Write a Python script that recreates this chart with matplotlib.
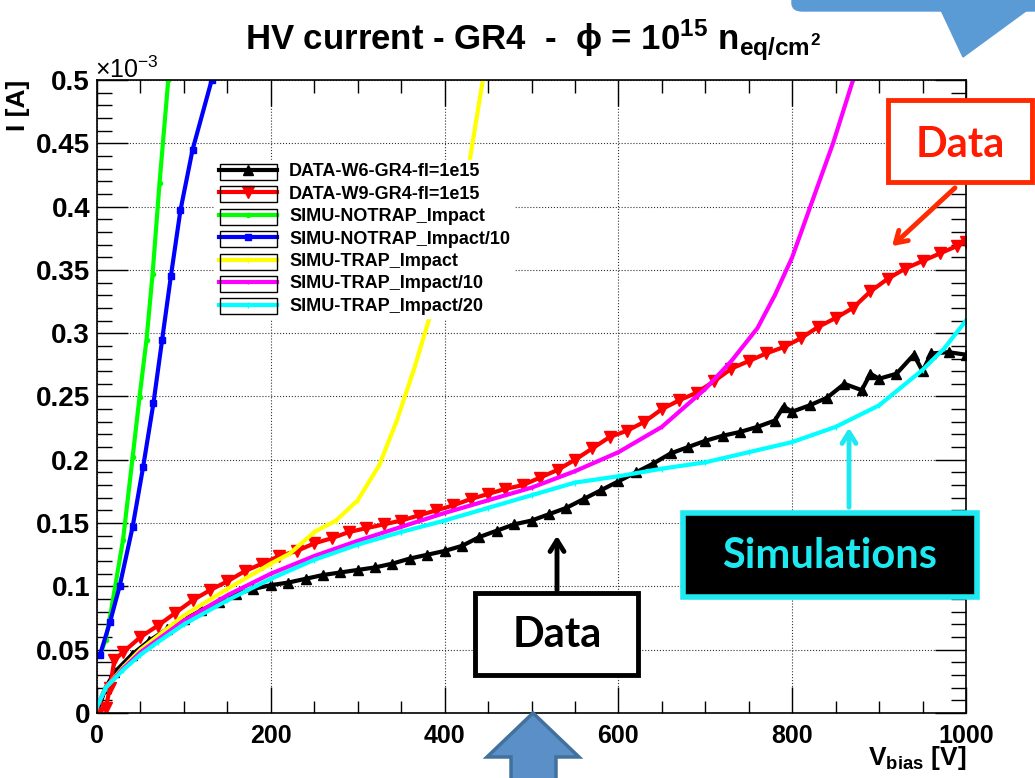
import matplotlib
matplotlib.use('Agg')
import matplotlib.pyplot as plt
from matplotlib.patches import Rectangle, FancyBboxPatch, FancyArrowPatch, Polygon
from matplotlib.ticker import MultipleLocator

plt.rcParams['font.family'] = ['Liberation Sans', 'DejaVu Sans']
plt.rcParams['mathtext.fontset'] = 'custom'
plt.rcParams['mathtext.rm'] = 'Liberation Sans:bold'
plt.rcParams['mathtext.it'] = 'Liberation Sans:bold'
plt.rcParams['mathtext.bf'] = 'Liberation Sans:bold'

# current values are in units of 1e-3 A
v_w6 = [0, 10, 20, 40, 60, 80, 100, 120, 140, 160, 180, 200, 220, 240, 260, 280, 300,
        320, 340, 360, 380, 400, 420, 440, 460, 480, 500, 520, 540, 560, 580, 600, 620,
        640, 660, 680, 700, 720, 740, 760, 780, 790, 800, 820, 840, 860, 880, 890, 900,
        920, 940, 950, 960, 980, 1000]
i_w6 = [0.0, 0.020, 0.032, 0.046, 0.057, 0.066, 0.074, 0.081, 0.088, 0.094, 0.098, 0.101,
        0.103, 0.106, 0.109, 0.111, 0.113, 0.115, 0.118, 0.122, 0.125, 0.128, 0.132, 0.139,
        0.144, 0.149, 0.152, 0.157, 0.162, 0.169, 0.176, 0.183, 0.190, 0.197, 0.205, 0.210,
        0.215, 0.219, 0.222, 0.226, 0.231, 0.242, 0.238, 0.243, 0.249, 0.260, 0.255, 0.268,
        0.264, 0.268, 0.283, 0.270, 0.284, 0.285, 0.283]

v_w9 = [0, 10, 15, 20, 30, 50, 70, 90, 110, 130, 150, 170, 190, 210, 230, 250, 270, 290,
        310, 330, 350, 370, 390, 410, 430, 450, 470, 490, 510, 530, 550, 570, 590, 610,
        630, 650, 670, 690, 710, 730, 750, 770, 790, 810, 830, 850, 870, 890, 910, 930,
        950, 970, 990, 1000]
i_w9 = [0.0, 0.004, 0.020, 0.042, 0.048, 0.060, 0.069, 0.079, 0.089, 0.097, 0.104, 0.112,
        0.118, 0.124, 0.128, 0.134, 0.138, 0.143, 0.146, 0.149, 0.152, 0.156, 0.160, 0.164,
        0.169, 0.173, 0.177, 0.180, 0.186, 0.192, 0.200, 0.209, 0.218, 0.223, 0.230, 0.240,
        0.247, 0.253, 0.262, 0.272, 0.278, 0.284, 0.289, 0.296, 0.305, 0.312, 0.320, 0.333,
        0.343, 0.351, 0.357, 0.363, 0.369, 0.372]

v_notrap = [3.5, 10, 15, 30, 41, 49, 57, 64, 72, 82]
i_notrap = [0.046, 0.058, 0.076, 0.137, 0.202, 0.250, 0.295, 0.347, 0.419, 0.500]

v_notrap10 = [3.5, 15, 26, 41, 53, 65, 75, 85, 96, 110, 132]
i_notrap10 = [0.046, 0.072, 0.100, 0.147, 0.194, 0.245, 0.295, 0.345, 0.397, 0.445, 0.500]

v_trap = [0, 10, 30, 50, 100, 150, 200, 222, 250, 275, 300, 325, 345, 365, 383, 400, 415,
          429, 444]
i_trap = [0.005, 0.020, 0.036, 0.050, 0.077, 0.098, 0.118, 0.126, 0.143, 0.152, 0.168,
          0.196, 0.231, 0.272, 0.313, 0.355, 0.400, 0.437, 0.500]

v_trap10 = [0, 10, 30, 50, 100, 150, 200, 250, 300, 350, 400, 450, 500, 550, 600, 650,
            700, 730, 760, 780, 800, 825, 847, 870]
i_trap10 = [0.005, 0.020, 0.035, 0.048, 0.073, 0.093, 0.110, 0.124, 0.136, 0.147, 0.158,
            0.168, 0.178, 0.191, 0.206, 0.226, 0.256, 0.278, 0.304, 0.330, 0.360, 0.408,
            0.450, 0.500]

v_trap20 = [0, 10, 30, 50, 70, 100, 150, 200, 250, 300, 350, 400, 450, 500, 550, 600,
            650, 700, 750, 800, 850, 900, 950, 975, 1000]
i_trap20 = [0.005, 0.020, 0.034, 0.046, 0.056, 0.070, 0.089, 0.106, 0.121, 0.133, 0.143,
            0.152, 0.162, 0.172, 0.182, 0.187, 0.193, 0.198, 0.206, 0.214, 0.226, 0.243,
            0.271, 0.288, 0.310]

labels = ['DATA-W6-GR4-fl=1e15', 'DATA-W9-GR4-fl=1e15', 'SIMU-NOTRAP_Impact',
          'SIMU-NOTRAP_Impact/10', 'SIMU-TRAP_Impact', 'SIMU-TRAP_Impact/10',
          'SIMU-TRAP_Impact/20']

W, H = 1035, 778
fig = plt.figure(figsize=(W / 100, H / 100), dpi=100)
ax = fig.add_axes([97 / W, 1 - 713 / H, 869 / W, 633 / H])


def P(x, y):
    # reference pixel (origin top left) -> figure fraction
    return x / W, 1 - y / H


def box(x0, y0, x1, y1, **kw):
    # rectangle from reference pixel corners
    return Rectangle(P(x0, y1), (x1 - x0) / W, (y1 - y0) / H,
                     transform=fig.transFigure, **kw)


series = [
    (v_w6, i_w6, 'black', '^', 7),
    (v_w9, i_w9, '#ff0000', 'v', 8),
    (v_notrap, i_notrap, '#00ff00', 'o', 3),
    (v_notrap10, i_notrap10, '#0000ff', 's', 4),
    (v_trap, i_trap, '#ffff00', '|', 4),
    (v_trap10, i_trap10, '#ff00ff', '|', 3),
    (v_trap20, i_trap20, '#00ffff', '|', 4),
]
for (v, i, c, m, ms), lab in zip(series, labels):
    ax.plot(v, i, color=c, lw=3, marker=m, ms=ms, mec=c, label=lab)

ax.set_xlim(0, 1000)
ax.set_ylim(0, 0.5)
ax.xaxis.set_major_locator(MultipleLocator(200))
ax.xaxis.set_minor_locator(MultipleLocator(50))
ax.yaxis.set_major_locator(MultipleLocator(0.05))
ax.yaxis.set_minor_locator(MultipleLocator(0.01))
ax.xaxis.set_major_formatter(lambda x, p: f'{x:g}')
ax.yaxis.set_major_formatter(lambda x, p: f'{x:g}')
ax.grid(True, which='major', ls=':', color='#333333', lw=0.8)
ax.tick_params(axis='x', which='major', direction='in', length=19, width=1,
               top=True, labelsize=18, pad=8)
ax.tick_params(axis='x', which='minor', direction='in', length=9, width=1, top=True)
ax.tick_params(axis='y', which='major', direction='in', length=22, width=1,
               right=True, labelsize=20, pad=5)
ax.tick_params(axis='y', which='minor', direction='in', length=11, width=1, right=True)
for t in ax.get_xticklabels() + ax.get_yticklabels():
    t.set_fontweight('bold')
for s in ax.spines.values():
    s.set_linewidth(1.2)

leg = ax.legend(loc='upper left', bbox_to_anchor=(0.136, 0.874),
                prop={'weight': 'bold', 'size': 13}, frameon=True, facecolor='white',
                edgecolor='white', framealpha=1, fancybox=False, handlelength=3.2,
                handletextpad=0.7, labelspacing=0.3, borderpad=0.2, borderaxespad=0)

# texts
fig.text(*P(533, 50), r'HV current - GR4  -  ϕ = 10$^{15}$ n$_{eq/cm^{2}}$',
         ha='center', va='baseline', fontsize=25, fontweight='bold')
fig.text(*P(18, 80), 'I [A]', rotation=90, ha='center', va='top', fontsize=19,
         fontweight='bold')
fig.text(*P(95, 78), r'×10$^{\mathregular{-3}}$', ha='left', va='baseline', fontsize=18)
fig.text(*P(966, 765), r'V$_{bias}$ [V]', ha='right', va='baseline', fontsize=19,
         fontweight='bold')

# legend sample boxes (ROOT style)
fig.canvas.draw()
r = fig.canvas.get_renderer()
for t in leg.get_texts():
    bb = t.get_window_extent(r)
    yc = (bb.y0 + bb.y1) / 2
    x1 = bb.x0 - 12
    fig.add_artist(Rectangle((x1 - 57, yc - 8), 57, 16, transform=None, fill=False,
                             ec='black', lw=1, zorder=6))

# callouts
fig.add_artist(box(888, 100, 1032, 182, fc='white', ec='#ff2a00', lw=3.5, zorder=7))
fig.text(*P(960, 145), 'Data', color='#ff1a00', fontsize=30, fontweight='bold',
         family='Lato', ha='center', va='center', zorder=8)
fig.add_artist(FancyArrowPatch(P(957, 186), P(890, 248), transform=fig.transFigure,
                               arrowstyle='->,head_length=8,head_width=5',
                               color='#ff2a00', lw=3.5, zorder=7))

fig.add_artist(box(683, 513, 977, 597, fc='black', ec='#1ee8f0', lw=4, zorder=7))
fig.text(*P(830, 556), 'Simulations', color='#1ee8f0', fontsize=30, fontweight='bold',
         family='Lato', ha='center', va='center', zorder=8)
fig.add_artist(FancyArrowPatch(P(849, 510), P(849, 425), transform=fig.transFigure,
                               arrowstyle='->,head_length=8,head_width=5',
                               color='#1ee8f0', lw=3.5, zorder=7))

fig.add_artist(box(475, 593, 638, 675, fc='white', ec='black', lw=3.5, zorder=7))
fig.text(*P(557, 635), 'Data', color='black', fontsize=30, fontweight='bold',
         family='Lato', ha='center', va='center', zorder=8)
fig.add_artist(FancyArrowPatch(P(557, 593), P(557, 533), transform=fig.transFigure,
                               arrowstyle='->,head_length=8,head_width=5',
                               color='black', lw=3.5, zorder=7))

# blue block arrow at the bottom and the shape at the top right
fig.add_artist(Polygon([P(533, 713), P(579, 757), P(556, 757), P(556, 790), P(511, 790),
                        P(511, 757), P(487, 757)], closed=True, transform=fig.transFigure,
                       fc='#5b8fc7', ec='#41719c', lw=2.5, zorder=7))
fig.add_artist(FancyBboxPatch(P(792, 11), 260 / W, 25 / H,
                              boxstyle='round,pad=0,rounding_size=0.01',
                              transform=fig.transFigure, fc='#5b9bd5', ec='#5b9bd5',
                              zorder=7))
fig.add_artist(Polygon([P(940, 8), P(1030, 8), P(963, 57)], closed=True,
                       transform=fig.transFigure, fc='#5b9bd5', ec='#5b9bd5', lw=1,
                       zorder=7))

fig.savefig('out.png', dpi=100)
